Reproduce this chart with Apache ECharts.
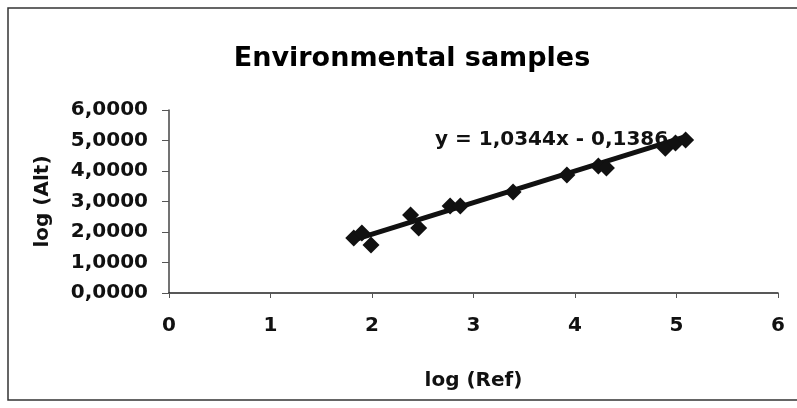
<!DOCTYPE html>
<html>
<head>
<meta charset="utf-8">
<script src="https://cdn.jsdelivr.net/npm/echarts@6/dist/echarts.min.js"></script>
<style>
  html, body { margin: 0; padding: 0; background: #fff; }
  #chart { width: 797px; height: 408px; }
</style>
</head>
<body>
<div id="chart"></div>
<script>
// Measured pairs: log of the reference count vs log of the alternative count
const logRef = [1.82, 1.90, 1.99, 2.38, 2.46, 2.77, 2.87, 3.39, 3.92, 4.23, 4.31, 4.89, 4.99, 5.09];
const logAlt = [1.80, 1.97, 1.57, 2.56, 2.13, 2.85, 2.85, 3.31, 3.87, 4.16, 4.10, 4.75, 4.92, 5.02];

// Linear fit reported on the chart
const slope = 1.0344;
const intercept = -0.1386;
const fitRange = [1.82, 5.09];

const xTicks = [0, 1, 2, 3, 4, 5, 6];
const yTicks = [0, 1, 2, 3, 4, 5, 6];

const FONT = 'DejaVu Sans';
const fmtComma = (v, d) => v.toFixed(d).replace('.', ',');

const points = logRef.map((x, i) => [x, logAlt[i]]);
const fitLine = fitRange.map(x => [x, slope * x + intercept]);
const equation = 'y = ' + fmtComma(slope, 4) + 'x - ' + fmtComma(-intercept, 4);

const chart = echarts.init(document.getElementById('chart'), null, { renderer: 'canvas' });
chart.setOption({
  backgroundColor: '#fff',
  animation: false,
  title: {
    text: 'Environmental samples',
    left: 407,
    top: 40,
    textAlign: 'center',
    textStyle: { fontFamily: FONT, fontWeight: 'bold', fontSize: 27, color: '#000' }
  },
  grid: { left: 169, right: 19, top: 110, bottom: 115 },
  xAxis: {
    type: 'value',
    min: xTicks[0],
    max: xTicks[xTicks.length - 1],
    interval: 1,
    name: 'log (Ref)',
    nameLocation: 'middle',
    nameGap: 78,
    nameTextStyle: { fontFamily: FONT, fontWeight: 'bold', fontSize: 20, color: '#111' },
    axisLine: { lineStyle: { color: '#222', width: 1.5 } },
    axisTick: { inside: false, length: 5, lineStyle: { color: '#555' } },
    axisLabel: { fontFamily: FONT, fontWeight: 'bold', fontSize: 20, color: '#111', margin: 23 },
    splitLine: { show: false }
  },
  yAxis: {
    type: 'value',
    min: yTicks[0],
    max: yTicks[yTicks.length - 1],
    interval: 1,
    name: 'log (Alt)',
    nameLocation: 'middle',
    nameGap: 116,
    nameRotate: 90,
    nameTextStyle: { fontFamily: FONT, fontWeight: 'bold', fontSize: 20, color: '#111' },
    axisLine: { show: true, lineStyle: { color: '#444', width: 1.5 } },
    axisTick: { show: true, length: 7, lineStyle: { color: '#555' } },
    axisLabel: { fontFamily: FONT, fontWeight: 'bold', fontSize: 20, color: '#111', margin: 21,
      formatter: v => fmtComma(v, 4) },
    splitLine: { show: false }
  },
  graphic: [
    {
      type: 'rect',
      shape: { x: 8, y: 8, width: 800, height: 392 },
      style: { fill: 'none', stroke: '#333', lineWidth: 1.5 },
      z: 10
    },
    {
      type: 'text',
      left: 435,
      top: 130,
      style: { text: equation, fontFamily: FONT, fontWeight: 'bold', fontSize: 20, fill: '#111' },
      z: 5
    }
  ],
  series: [
    {
      type: 'line',
      data: fitLine,
      symbol: 'none',
      lineStyle: { color: '#111', width: 5 },
      z: 2
    },
    {
      type: 'scatter',
      data: points,
      symbol: 'diamond',
      symbolSize: 17,
      itemStyle: { color: '#111', opacity: 1 },
      z: 3
    }
  ]
});
</script>
</body>
</html>
